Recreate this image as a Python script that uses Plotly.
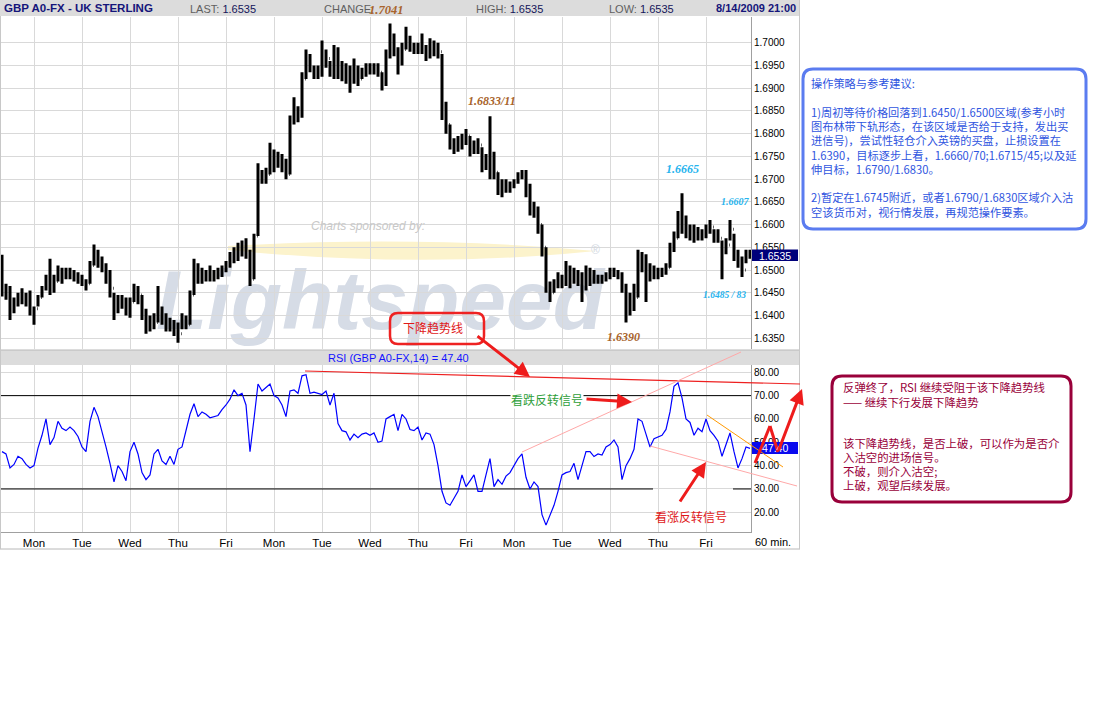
import plotly.graph_objects as go

W, H = 1093, 703

# ---------------- data ----------------
day_names = ["Mon", "Tue", "Wed", "Thu", "Fri"] * 3
day_start_hours = [0, 24, 48, 72, 96, 120, 144, 168, 192, 216, 240, 264, 288, 312, 336]

price_ticks = [1.6350, 1.6400, 1.6450, 1.6500, 1.6550, 1.6600, 1.6650,
               1.6700, 1.6750, 1.6800, 1.6850, 1.6900, 1.6950, 1.7000]
rsi_ticks = [20, 30, 40, 50, 60, 70, 80]

bar_high = [
    1.6534, 1.6470, 1.6465, 1.6440, 1.6450, 1.6460, 1.6450, 1.6455, 1.6420, 1.6445,
    1.6465, 1.6490, 1.6525, 1.6490, 1.6510, 1.6505, 1.6505, 1.6505, 1.6500, 1.6495,
    1.6490, 1.6480, 1.6520, 1.6556, 1.6545, 1.6530, 1.6515, 1.6500, 1.6450, 1.6445,
    1.6445, 1.6440, 1.6440, 1.6470, 1.6465, 1.6445, 1.6415, 1.6400, 1.6405, 1.6465,
    1.6420, 1.6405, 1.6395, 1.6390, 1.6385, 1.6405, 1.6400, 1.6455, 1.6525, 1.6515,
    1.6505, 1.6500, 1.6510, 1.6500, 1.6505, 1.6510, 1.6520, 1.6540, 1.6550, 1.6560,
    1.6565, 1.6570, 1.6545, 1.6580, 1.6735, 1.6720, 1.6725, 1.6780, 1.6765, 1.6760,
    1.6755, 1.6745, 1.6840, 1.6880, 1.6860, 1.6935, 1.6985, 1.6975, 1.6950, 1.6950,
    1.7005, 1.6985, 1.6960, 1.6995, 1.6990, 1.6960, 1.6955, 1.6950, 1.6965, 1.6950,
    1.6945, 1.6955, 1.6955, 1.6955, 1.6955, 1.6935, 1.6985, 1.7042, 1.7020, 1.6990,
    1.7000, 1.7035, 1.7015, 1.7000, 1.7000, 1.7020, 1.6995, 1.7010, 1.7005, 1.7000,
    1.6975, 1.6870, 1.6820, 1.6790, 1.6795, 1.6800, 1.6810, 1.6795, 1.6785, 1.6790,
    1.6770, 1.6755, 1.6838, 1.6760, 1.6715, 1.6700, 1.6700, 1.6695, 1.6700, 1.6715,
    1.6720, 1.6720, 1.6690, 1.6650, 1.6640, 1.6600, 1.6550, 1.6475, 1.6480, 1.6495,
    1.6490, 1.6520, 1.6510, 1.6505, 1.6500, 1.6495, 1.6510, 1.6505, 1.6500, 1.6490,
    1.6490, 1.6495, 1.6505, 1.6505, 1.6500, 1.6495, 1.6470, 1.6450, 1.6470, 1.6545,
    1.6540, 1.6535, 1.6515, 1.6510, 1.6505, 1.6505, 1.6515, 1.6560, 1.6585, 1.6630,
    1.6669, 1.6620, 1.6600, 1.6600, 1.6595, 1.6590, 1.6600, 1.6610, 1.6590, 1.6590,
    1.6565, 1.6570, 1.6610, 1.6580, 1.6545, 1.6530, 1.6545, 1.6545,
]
bar_low = [
    1.6442, 1.6435, 1.6390, 1.6405, 1.6420, 1.6425, 1.6420, 1.6400, 1.6380, 1.6420,
    1.6440, 1.6455, 1.6445, 1.6450, 1.6475, 1.6470, 1.6480, 1.6480, 1.6475, 1.6470,
    1.6465, 1.6455, 1.6470, 1.6510, 1.6505, 1.6495, 1.6470, 1.6440, 1.6390, 1.6405,
    1.6415, 1.6400, 1.6395, 1.6430, 1.6425, 1.6390, 1.6360, 1.6365, 1.6370, 1.6385,
    1.6380, 1.6365, 1.6365, 1.6355, 1.6340, 1.6370, 1.6370, 1.6380, 1.6445, 1.6470,
    1.6470, 1.6475, 1.6475, 1.6475, 1.6480, 1.6485, 1.6495, 1.6505, 1.6515, 1.6520,
    1.6530, 1.6525, 1.6465, 1.6480, 1.6575, 1.6690, 1.6690, 1.6710, 1.6715, 1.6725,
    1.6715, 1.6700, 1.6710, 1.6820, 1.6825, 1.6835, 1.6920, 1.6935, 1.6920, 1.6920,
    1.6925, 1.6945, 1.6925, 1.6920, 1.6920, 1.6915, 1.6910, 1.6890, 1.6910, 1.6905,
    1.6920, 1.6925, 1.6930, 1.6930, 1.6925, 1.6895, 1.6905, 1.6965, 1.6970, 1.6930,
    1.6950, 1.6985, 1.6980, 1.6975, 1.6975, 1.6975, 1.6960, 1.6965, 1.6970, 1.6965,
    1.6830, 1.6800, 1.6765, 1.6755, 1.6760, 1.6765, 1.6775, 1.6750, 1.6755, 1.6755,
    1.6715, 1.6720, 1.6700, 1.6700, 1.6665, 1.6660, 1.6670, 1.6670, 1.6680, 1.6690,
    1.6700, 1.6660, 1.6620, 1.6615, 1.6580, 1.6530, 1.6450, 1.6430, 1.6450, 1.6460,
    1.6460, 1.6465, 1.6460, 1.6470, 1.6465, 1.6430, 1.6455, 1.6465, 1.6470, 1.6470,
    1.6470, 1.6475, 1.6480, 1.6485, 1.6480, 1.6450, 1.6385, 1.6400, 1.6410, 1.6440,
    1.6495, 1.6430, 1.6475, 1.6480, 1.6480, 1.6485, 1.6490, 1.6505, 1.6540, 1.6570,
    1.6580, 1.6570, 1.6565, 1.6560, 1.6565, 1.6565, 1.6570, 1.6580, 1.6560, 1.6560,
    1.6480, 1.6535, 1.6565, 1.6520, 1.6505, 1.6485, 1.6515, 1.6525,
]
bar_close = [
    1.6460, 1.6450, 1.6420, 1.6425, 1.6440, 1.6440, 1.6430, 1.6410, 1.6415, 1.6440,
    1.6460, 1.6480, 1.6470, 1.6475, 1.6500, 1.6490, 1.6495, 1.6490, 1.6490, 1.6485,
    1.6470, 1.6470, 1.6510, 1.6530, 1.6520, 1.6505, 1.6490, 1.6460, 1.6420, 1.6425,
    1.6435, 1.6415, 1.6430, 1.6455, 1.6445, 1.6410, 1.6390, 1.6380, 1.6385, 1.6410,
    1.6395, 1.6380, 1.6375, 1.6370, 1.6360, 1.6395, 1.6380, 1.6445, 1.6495, 1.6490,
    1.6490, 1.6485, 1.6490, 1.6490, 1.6495, 1.6505, 1.6510, 1.6525, 1.6535, 1.6540,
    1.6545, 1.6540, 1.6480, 1.6575, 1.6705, 1.6700, 1.6710, 1.6730, 1.6740, 1.6745,
    1.6735, 1.6710, 1.6830, 1.6840, 1.6845, 1.6920, 1.6960, 1.6945, 1.6935, 1.6940,
    1.6965, 1.6965, 1.6940, 1.6975, 1.6950, 1.6935, 1.6930, 1.6925, 1.6940, 1.6920,
    1.6935, 1.6940, 1.6945, 1.6940, 1.6935, 1.6920, 1.6975, 1.6995, 1.6985, 1.6965,
    1.6985, 1.7010, 1.6995, 1.6990, 1.6990, 1.6985, 1.6975, 1.6985, 1.6990, 1.6980,
    1.6860, 1.6820, 1.6780, 1.6775, 1.6780, 1.6785, 1.6795, 1.6770, 1.6770, 1.6775,
    1.6730, 1.6740, 1.6750, 1.6715, 1.6685, 1.6680, 1.6690, 1.6685, 1.6695, 1.6705,
    1.6715, 1.6680, 1.6640, 1.6635, 1.6600, 1.6550, 1.6460, 1.6450, 1.6470, 1.6480,
    1.6475, 1.6495, 1.6480, 1.6490, 1.6480, 1.6460, 1.6490, 1.6490, 1.6485, 1.6480,
    1.6480, 1.6490, 1.6495, 1.6495, 1.6490, 1.6460, 1.6410, 1.6420, 1.6440, 1.6520,
    1.6520, 1.6510, 1.6490, 1.6495, 1.6490, 1.6495, 1.6505, 1.6545, 1.6570, 1.6610,
    1.6600, 1.6585, 1.6580, 1.6580, 1.6585, 1.6575, 1.6590, 1.6595, 1.6575, 1.6570,
    1.6540, 1.6555, 1.6590, 1.6530, 1.6520, 1.6500, 1.6535, 1.6535,
]
rsi_values = [
    46, 45, 39, 40.5, 44, 43, 40.5, 39, 40, 47.5,
    53, 60, 49, 52, 59, 56, 55, 56.5, 55, 52.5,
    48, 46, 59, 65, 61, 55, 48, 41, 33, 40,
    37.5, 33.5, 46, 50, 45, 37, 34, 36, 45, 47,
    42, 40.5, 44, 40.5, 47, 48, 55, 62, 66.5, 61,
    63, 62, 60.5, 61, 61.5, 64, 66, 68.5, 72.5, 70,
    71, 66, 46, 60, 75, 72, 73.5, 75, 70, 69,
    66, 61, 72, 72.5, 71, 78.5, 79, 71, 71.5, 71,
    70.5, 72, 66, 71, 58, 55, 54.5, 51, 53.5, 52,
    53.5, 54, 53, 54, 50, 50.5, 60, 61, 62, 55,
    62, 60, 55.5, 55, 56.5, 51, 54, 53.5, 49, 40,
    29, 24, 23, 26, 29, 36, 31, 33.5, 36, 29,
    29, 36, 43, 31, 34, 32, 35.5, 37, 40, 43,
    45, 35, 30, 33, 31, 19, 14.5, 19, 23, 29,
    36, 37, 37.5, 41, 34, 40, 46, 46, 43.9, 45,
    44.5, 48, 49, 51, 48, 34, 40, 43, 47, 60,
    59, 53.5, 48, 51.5, 52.4, 53, 55.5, 63, 74, 75.5,
    69, 60, 58.5, 53, 56, 54.5, 60, 55, 53, 50.5,
    44, 49, 54, 46, 39, 43, 48, 47.4,
]
# two-hour bars, hours counted from the first Monday 00:00
bar_hours = [-16 + 2 * k for k in range(len(bar_close))]
bar_open = [bar_close[0]] + bar_close[:-1]

last_price = "1.6535"
last_rsi = "47.40"

# ---------------- helpers ----------------
SANS = "Liberation Sans, Arial, sans-serif"
SERIF = "Liberation Serif, Times New Roman, serif"
CJK = "Noto Sans CJK SC, sans-serif"
GRID = "#d9d9d9"
AXIS = "#a0a0a0"


def px(x):
    return x / W


def py(y):
    return 1 - y / H


shapes = []
annotations = []


def add_line(x0, y0, x1, y1, color, width=1, layer="above"):
    shapes.append(dict(type="line", xref="paper", yref="paper",
                       x0=px(x0), y0=py(y0), x1=px(x1), y1=py(y1),
                       line=dict(color=color, width=width), layer=layer))


def add_rect(x0, y0, x1, y1, fill, layer="above", line_color=None, lw=0):
    shapes.append(dict(type="rect", xref="paper", yref="paper",
                       x0=px(x0), y0=py(y1), x1=px(x1), y1=py(y0),
                       fillcolor=fill, layer=layer,
                       line=dict(color=line_color or fill, width=lw)))


def add_rrect(x0, y0, x1, y1, r, color, width):
    X, Y = px, py
    path = (f"M {X(x0 + r)},{Y(y0)} L {X(x1 - r)},{Y(y0)} "
            f"Q {X(x1)},{Y(y0)} {X(x1)},{Y(y0 + r)} L {X(x1)},{Y(y1 - r)} "
            f"Q {X(x1)},{Y(y1)} {X(x1 - r)},{Y(y1)} L {X(x0 + r)},{Y(y1)} "
            f"Q {X(x0)},{Y(y1)} {X(x0)},{Y(y1 - r)} L {X(x0)},{Y(y0 + r)} "
            f"Q {X(x0)},{Y(y0)} {X(x0 + r)},{Y(y0)} Z")
    shapes.append(dict(type="path", xref="paper", yref="paper", path=path,
                       line=dict(color=color, width=width), fillcolor="rgba(0,0,0,0)",
                       layer="above"))


def add_text(x, y, s, size=11, color="black", family=SANS, xanchor="left", bg=None):
    d = dict(x=px(x), y=py(y), xref="paper", yref="paper", text=s, showarrow=False,
             xanchor=xanchor, yanchor="middle", font=dict(size=size, color=color, family=family),
             borderpad=0)
    if bg:
        d["bgcolor"] = bg
    annotations.append(d)


def add_arrow(x0, y0, x1, y1, color="#ee1c1c", width=3, head=2):
    annotations.append(dict(x=px(x1), y=py(y1), xref="paper", yref="paper", text="",
                            showarrow=True, ax=x0 - x1, ay=y0 - y1, axref="pixel", ayref="pixel",
                            arrowhead=head, arrowsize=1, arrowwidth=width, arrowcolor=color,
                            standoff=0, startstandoff=0))


# ---------------- traces ----------------
fig = go.Figure()
fig.add_trace(go.Ohlc(
    x=bar_hours, open=bar_open, high=bar_high, low=bar_low, close=bar_close,
    increasing=dict(line=dict(color="black", width=3)),
    decreasing=dict(line=dict(color="black", width=3)),
    tickwidth=0.15, xaxis="x", yaxis="y", hoverinfo="skip", showlegend=False))
fig.add_trace(go.Scatter(
    x=bar_hours, y=rsi_values, mode="lines", line=dict(color="#0000ff", width=1.2),
    xaxis="x2", yaxis="y2", hoverinfo="skip", showlegend=False))

# ---------------- chart frame ----------------
add_rect(0, 0, 800, 16, "#dcdcdc")
add_rect(0, 350, 800, 365, "#dcdcdc")
add_line(0, 350, 800, 350, "#b8b8b8", 1)
add_line(0, 549, 800, 549, "#b8b8b8", 1)
add_line(0.5, 16, 0.5, 549, "#c8c8c8", 1)
add_line(799.5, 0, 799.5, 549, "#c8c8c8", 1)

# watermark (below the price bars)
shapes.append(dict(type="path", xref="paper", yref="paper", layer="below",
                   path=(f"M {px(228)},{py(246)} Q {px(420)},{py(235)} {px(596)},{py(251)} "
                         f"Q {px(420)},{py(269)} {px(228)},{py(250)} Z"),
                   fillcolor="#fcf3cc", line=dict(width=0)))
shapes.append(dict(type="rect", xref="paper", yref="paper", layer="below",
                   x0=px(160), x1=px(600), y0=py(345), y1=py(238),
                   fillcolor="rgba(0,0,0,0)", line=dict(width=0),
                   label=dict(text="<b><i>Lightspeed</i></b>", textposition="middle center",
                              font=dict(size=84, color="#d6dce6", family=SANS))))
add_text(590, 250, "®", size=12, color="#d2d8e2")
add_text(310, 226, "<i>Charts sponsored by:</i>", size=12, color="#c8c8c8")

# header
add_text(3, 8, "<b>GBP A0-FX - UK STERLING</b>", size=11.5, color="#15157a")
add_text(189, 8.5, f"LAST: <span style='color:#15155a'>{last_price}</span>", size=11, color="#606060")
add_text(323, 8.5, "CHANGE:", size=11, color="#606060")
add_text(475, 8.5, f"HIGH: <span style='color:#15155a'>{last_price}</span>", size=11, color="#606060")
add_text(608, 8.5, f"LOW: <span style='color:#15155a'>{last_price}</span>", size=11, color="#606060")
add_text(797, 8, "<b>8/14/2009 21:00</b>", size=11, color="#15157a", xanchor="right")

# price labels
BROWN = "#a8642c"
CYAN = "#27b4ee"
add_text(368, 10, "<b><i>1.7041</i></b>", size=12.5, color=BROWN, family=SERIF)
add_text(467, 101, "<b><i>1.6833/11</i></b>", size=12, color=BROWN, family=SERIF)
add_text(665, 169, "<b><i>1.6665</i></b>", size=12, color=CYAN, family=SERIF)
add_text(720, 201, "<b><i>1.6607</i></b>", size=10, color=CYAN, family=SERIF)
add_text(702, 295, "<b><i>1.6485 / 83</i></b>", size=9.5, color=CYAN, family=SERIF)
add_text(606, 337, "<b><i>1.6390</i></b>", size=12, color=BROWN, family=SERIF)

# last price / last rsi markers
add_rect(752, 249.5, 798, 261, "#00007a")
add_text(775, 255.5, last_price, size=10.5, color="white", xanchor="center")
add_rect(752, 442, 798, 454, "#0a0aee")
add_text(775, 448, last_rsi, size=10.5, color="white", xanchor="center")

# RSI header
add_text(398, 358, "RSI (GBP A0-FX,14) = " + last_rsi, size=11, color="#1414ff", xanchor="center")
add_text(773, 542, "60 min.", size=11, color="black", xanchor="center")

# RSI 70 / 30 reference lines
shapes.append(dict(type="line", xref="x2", yref="y2", x0=-17, x1=358.5, y0=70, y1=70,
                   line=dict(color="black", width=1), layer="between"))
shapes.append(dict(type="line", xref="x2", yref="y2", x0=-17, x1=309.5, y0=30, y1=30,
                   line=dict(color="black", width=1), layer="between"))
shapes.append(dict(type="line", xref="x2", yref="y2", x0=349.5, x1=358.5, y0=30, y1=30,
                   line=dict(color="black", width=1), layer="between"))

# drawn trend lines on RSI
add_line(305, 371, 800, 384, "#ee2020", 1.2)
add_line(522, 452, 741, 352, "#ffa8a8", 1)
add_line(650, 446, 797, 486, "#ffa8a8", 1)
add_line(707, 415, 783, 467, "#ff9900", 1)

# red box "下降趋势线"
add_rrect(390, 313, 484, 344, 8, "#ee2222", 2.5)
add_text(402, 327, "下降趋势线", size=12, color="#e01818", family=CJK)
add_arrow(476, 335, 530, 377)

add_text(510, 399, "看跌反转信号", size=12, color="#2e9e3a", family=CJK, bg="white")
add_arrow(585, 399, 632, 402, width=3)
add_text(654, 516, "看涨反转信号", size=12, color="#e01818", family=CJK)
add_arrow(679, 503, 706, 462, width=3)

# zig-zag arrow at right
add_line(755, 463, 770, 426, "#ee1c1c", 3)
add_line(770, 426, 778, 452, "#ee1c1c", 3)
add_arrow(778, 452, 802, 389, width=3)

# blue strategy box
add_rrect(803, 69, 1086, 229, 10, "#5b7cf0", 3)
BLUE = "#2f55e0"
blue_lines = [
    (83, "操作策略与参考建议:"),
    (111.5, "1)周初等待价格回落到1.6450/1.6500区域(参考小时"),
    (126, "图布林带下轨形态，在该区域是否给于支持，发出买"),
    (140, "进信号)，尝试性轻仓介入英镑的买盘，止损设置在"),
    (154.5, "1.6390，目标逐步上看，1.6660/70;1.6715/45;以及延"),
    (169, "伸目标，1.6790/1.6830。"),
    (197.5, "2)暂定在1.6745附近，或者1.6790/1.6830区域介入沽"),
    (212, "空该货币对，视行情发展，再规范操作要素。"),
]
for yy, s in blue_lines:
    add_text(810, yy, s, size=11.2, color=BLUE, family=CJK)

# crimson comment box
add_rrect(832, 376, 1071, 502, 10, "#99003a", 3)
RED2 = "#99003a"
red_lines = [
    (387, "反弹终了，RSI 继续受阻于该下降趋势线"),
    (402, "—— 继续下行发展下降趋势"),
    (443, "该下降趋势线，是否上破，可以作为是否介"),
    (457, "入沽空的进场信号。"),
    (470.5, "不破，则介入沽空;"),
    (485, "上破，观望后续发展。"),
]
for yy, s in red_lines:
    add_text(842, yy, s, size=11.4, color=RED2, family=CJK)

# ---------------- layout ----------------
common_x = dict(domain=[0, px(751)], range=[-17, 358.5], tickvals=day_start_hours,
                showgrid=True, gridcolor=GRID, gridwidth=1, zeroline=False, ticks="",
                fixedrange=True, automargin=False)
fig.update_layout(
    width=W, height=H, autosize=False,
    margin=dict(l=0, r=0, t=0, b=0, pad=0),
    paper_bgcolor="white", plot_bgcolor="white", showlegend=False,
    xaxis=dict(**common_x, anchor="y", showticklabels=False, showline=False,
               rangeslider=dict(visible=False)),
    yaxis=dict(domain=[py(349), py(17)], range=[1.63265, 1.70565], side="right",
               anchor="x", tickvals=price_ticks, tickformat=".4f",
               showgrid=True, gridcolor=GRID, zeroline=False, showline=True,
               linecolor=AXIS, ticks="", automargin=False, fixedrange=True,
               tickfont=dict(size=10, color="black", family=SANS)),
    xaxis2=dict(**common_x, anchor="y2", ticktext=day_names, showticklabels=True,
                showline=True, linecolor=AXIS,
                tickfont=dict(size=11.5, color="black", family=SANS)),
    yaxis2=dict(domain=[py(532), py(365)], range=[11.55, 83.13], side="right",
                anchor="x2", tickvals=rsi_ticks, tickformat=".2f",
                showgrid=True, gridcolor=GRID, zeroline=False, showline=True,
                linecolor=AXIS, ticks="", automargin=False, fixedrange=True,
                tickfont=dict(size=10, color="black", family=SANS)),
    shapes=shapes, annotations=annotations,
)

fig.write_html("out.html", config={"displayModeBar": False},
               post_script="document.body.style.margin='0';")
